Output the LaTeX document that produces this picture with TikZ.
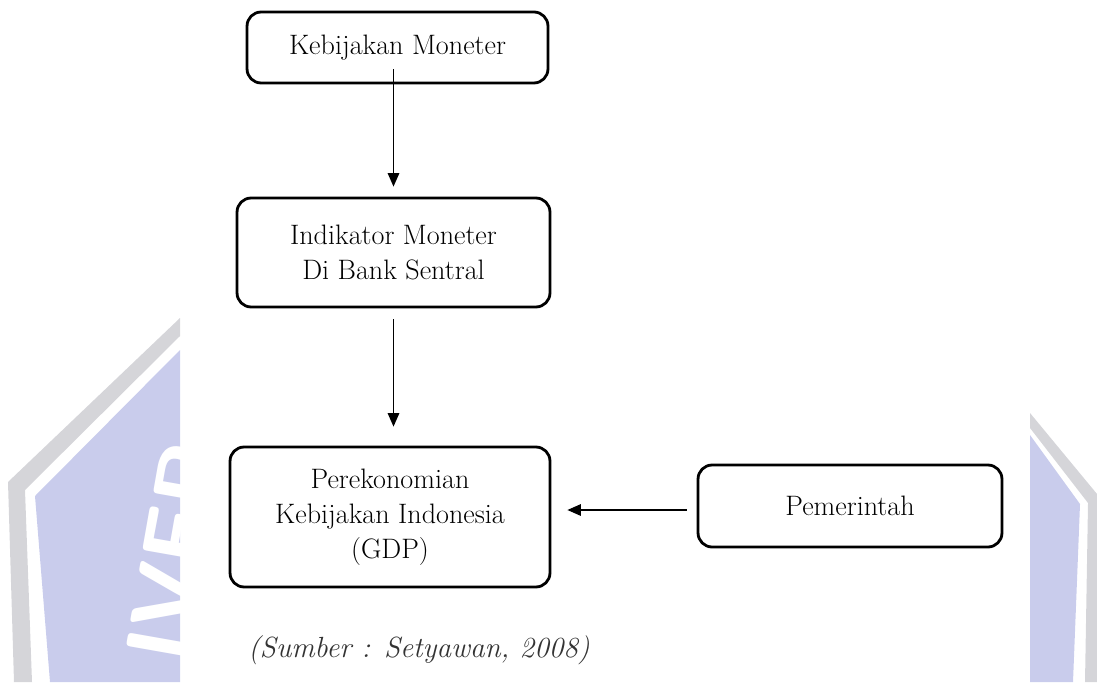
\documentclass[tikz,border=0pt]{standalone}
\usepackage{fontspec}
\usepackage{tikz}
\usetikzlibrary{arrows.meta,positioning,calc}
\definecolor{wmlav}{HTML}{C9CCEC}
\definecolor{wmgray}{HTML}{D5D5D9}
\definecolor{captxt}{HTML}{333333}
\tikzset{
  box/.style     = {draw,line width=1.6pt,rounded corners=8pt,align=center,
                    inner sep=0pt,font=\fontsize{16pt}{20pt}\selectfont},
  flowarr/.style = {-{Triangle[length=2.7mm,width=2.3mm]},line width=0.8pt},
  caption/.style = {font=\fontsize{16.6pt}{20pt}\selectfont\itshape,
                    text=captxt,inner sep=0pt},
}

\begin{document}
\begin{tikzpicture}[x=0.02cm,y=-0.02cm]
  \useasboundingbox (0,0) rectangle (1097,682);

  % Watermark shields (left and right edges)
  \fill[wmgray] (180,318) -- (8,482) -- (14,682) -- (32,682) -- (25,490)
                -- (180,336) -- cycle;
  \fill[wmlav] (180,350) -- (35,496) -- (50,682) -- (180,682) -- cycle;
  \begin{scope}
    \clip (180,350) -- (35,496) -- (50,682) -- (180,682) -- cycle;
    \node[anchor=base west,rotate=80,inner sep=0pt,text=white,
          font=\fontsize{52pt}{52pt}\selectfont\sffamily\bfseries]
          (wmtext) at (187,666) {IVER};
  \end{scope}
  \fill[wmgray] (1030,413) -- (1097,494) -- (1097,682) -- (1085,682)
                -- (1088,503) -- (1030,428) -- cycle;
  \fill[wmlav] (1030,435) -- (1080,504) -- (1073,682) -- (1030,682) -- cycle;

  % Boxes
  \node[box,minimum width=6.02cm,minimum height=1.42cm] (kebijakan)
      at (397.5,47.5) {Kebijakan Moneter};
  \node[box,minimum width=6.26cm,minimum height=2.18cm] (indikator)
      at (393.5,252.5) {Indikator Moneter\\Di Bank Sentral};
  \node[box,minimum width=6.4cm,minimum height=2.8cm] (ekonomi)
      at (390,517) {Perekonomian\\Kebijakan Indonesia\\(GDP)};
  \node[box,minimum width=6.08cm,minimum height=1.64cm] (pemerintah)
      at (850,506) {Pemerintah};

  % Arrows
  \draw[flowarr,shorten <=-0.3cm,shorten >=0.2cm]
      (kebijakan.south -| indikator.north) -- (indikator.north);
  \draw[flowarr,shorten <=0.22cm,shorten >=0.38cm]
      (indikator.south) -- (indikator.south |- ekonomi.north);
  \draw[flowarr,shorten <=0.2cm,shorten >=0.32cm]
      ([yshift=-0.08cm]pemerintah.west) -- ([yshift=-0.08cm]pemerintah.west -| ekonomi.east);

  % Source
  \node[caption] (sumber) at (419,650) {(Sumber : Setyawan, 2008)};
\end{tikzpicture}
\end{document}
